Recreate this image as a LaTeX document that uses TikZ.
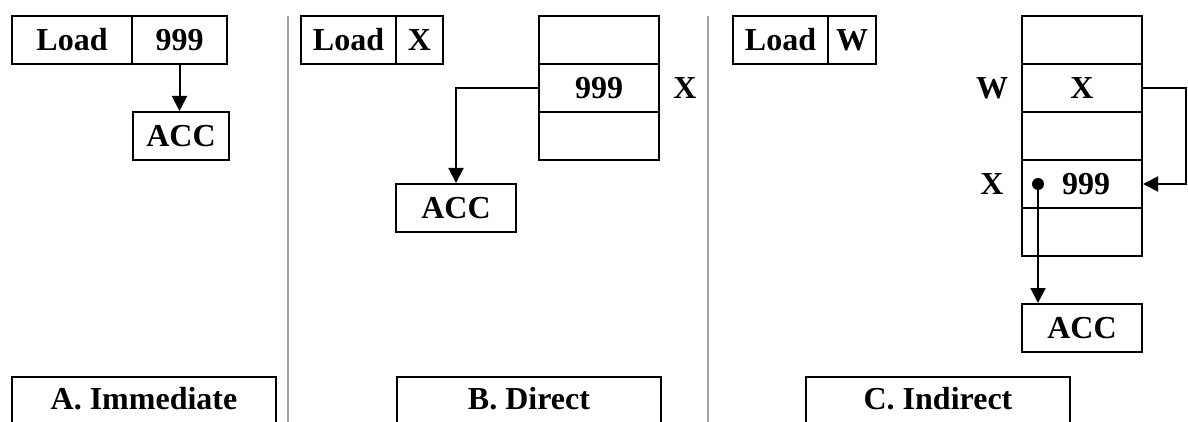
\documentclass[tikz,border=0pt]{standalone}
\usepackage{fontspec}
\setmainfont{Liberation Serif}
\usetikzlibrary{arrows.meta}
\definecolor{sepgray}{RGB}{165,165,165}
\tikzset{
  every node/.style={font=\fontsize{32}{38}\selectfont\bfseries, inner sep=0pt},
  cell/.style={draw, line width=2pt, minimum height=48pt, anchor=center},
  caption/.style={draw, line width=2pt, minimum width=264pt, minimum height=55pt,
                  text height=22pt, text depth=13pt},
  flow/.style={line width=2pt, -{Triangle[width=15pt,length=15pt]}},
  sep/.style={draw=sepgray, line width=2pt},
  tag/.style={anchor=center}
}
\begin{document}
\begin{tikzpicture}[x=1pt, y=-1pt]
\useasboundingbox (0,0) rectangle (1188,422);
\clip (0,0) rectangle (1188,422);

% panel separators
\draw[sep] (288,16) -- (288,422);
\draw[sep] (708,16) -- (708,422);

% ---- A. Immediate ----
\node[cell, minimum width=120pt] (loadA) at (72,40) {Load};
\node[cell, minimum width=95pt] (valA) at (179.5,40) {999};
\node[cell, minimum width=96pt] (accA) at (181,136) {ACC};
\draw[flow] (valA.south) -- (valA.south |- accA.north);
\node[caption] (capA) at (144,404.5) {A. Immediate};

% ---- B. Direct ----
\node[cell, minimum width=95pt] (loadB) at (348.5,40) {Load};
\node[cell, minimum width=47pt] (valB) at (419.5,40) {X};
\node[cell, minimum width=120pt] (mB1) at (599,40) {};
\node[cell, minimum width=120pt] (mB2) at (599,88) {999};
\node[cell, minimum width=120pt] (mB3) at (599,136) {};
\node[tag] (labBX) at (685,88) {X};
\node[cell, minimum width=120pt] (accB) at (456,208) {ACC};
\draw[flow] (mB2.west) -| (accB.north);
\node[caption] (capB) at (529,404.5) {B. Direct};

% ---- C. Indirect ----
\node[cell, minimum width=95pt] (loadC) at (780.5,40) {Load};
\node[cell, minimum width=48pt] (valC) at (852,40) {W};
\node[cell, minimum width=120pt] (mC1) at (1082,40) {};
\node[cell, minimum width=120pt] (mC2) at (1082,88) {X};
\node[cell, minimum width=120pt] (mC3) at (1082,136) {};
\node[cell, minimum width=120pt] (mC4) at (1082,184) {\hspace*{8pt}999};
\node[cell, minimum width=120pt] (mC5) at (1082,232) {};
\node[tag] (labCW) at (992,88) {W};
\node[tag] (labCX) at (992,184) {X};
\node[circle, fill, minimum size=12pt] (dot) at (1038,184) {};
\node[cell, minimum width=120pt] (accC) at (1082,328) {ACC};
\draw[flow] (dot.center) -- (dot.center |- accC.north);
\coordinate (loop) at (1186,88);
\draw[flow] (mC2.east) -- (loop) |- (mC4.east);
\node[caption] (capC) at (938,404.5) {C. Indirect};
\end{tikzpicture}
\end{document}
